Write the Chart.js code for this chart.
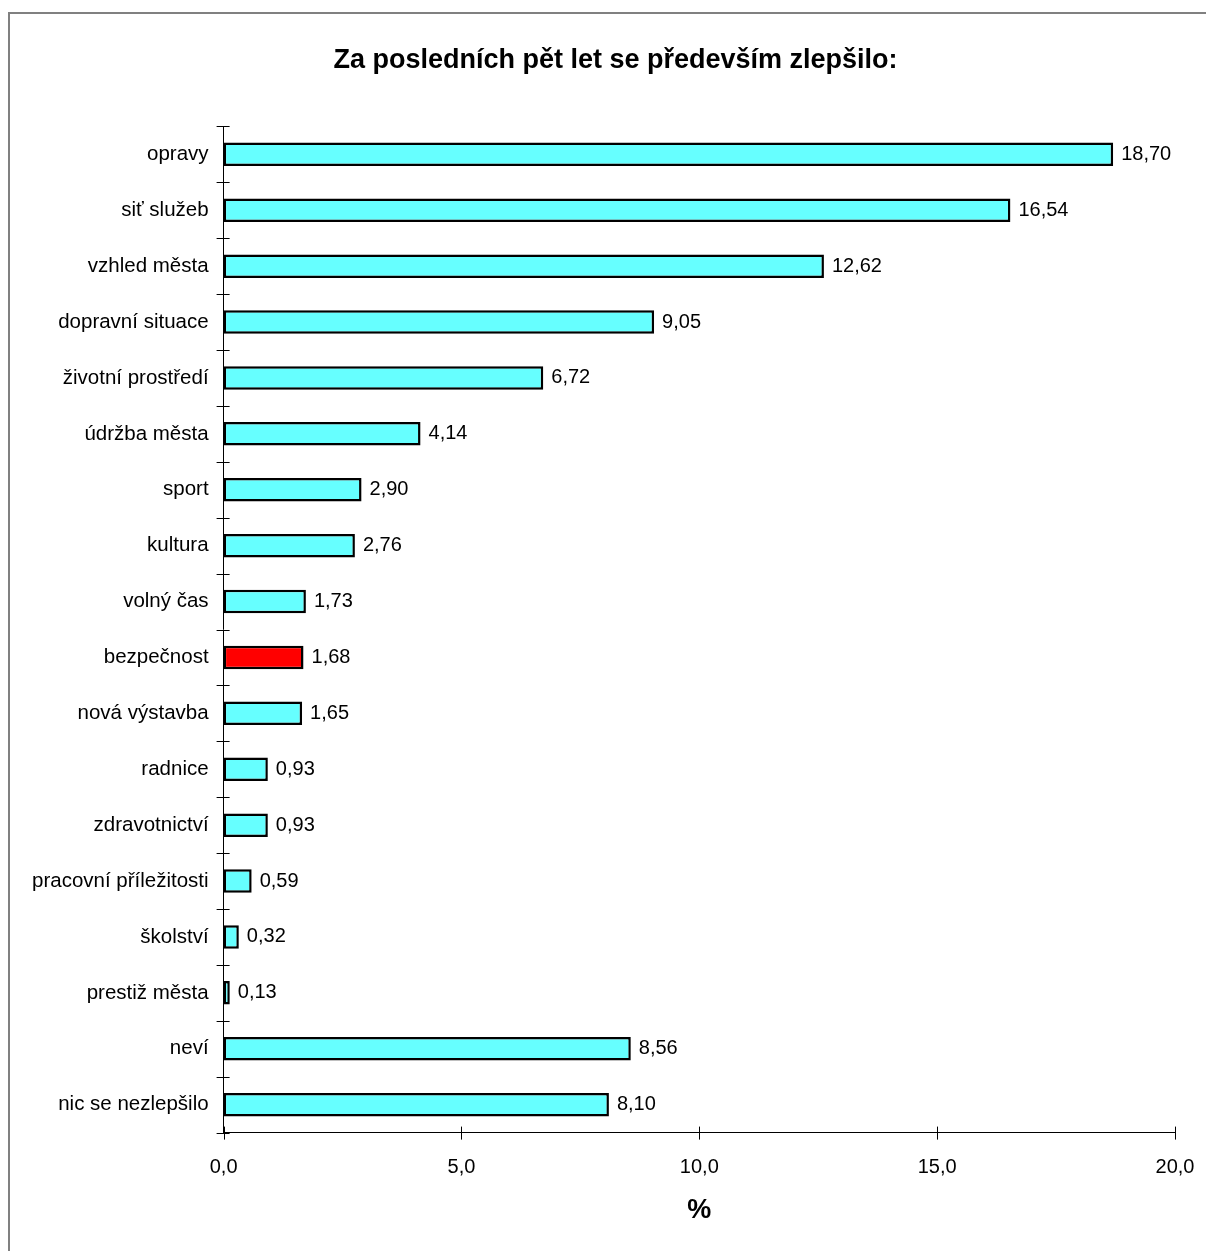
<!DOCTYPE html>
<html>
<head>
<meta charset="utf-8">
<script src="https://cdn.jsdelivr.net/npm/chart.js@4.4.1/dist/chart.umd.min.js"></script>
<style>
    html, body { margin: 0; padding: 0; background: #fff; overflow: hidden; }
    #frame {
        position: absolute; left: 8px; top: 12px; width: 1300px; height: 1300px;
        border-left: 2px solid #808080; border-top: 2px solid #808080;
    }
    #wrap { position: absolute; left: 0; top: 0; width: 1206px; height: 1251px; }
</style>
</head>
<body>
<div id="frame"></div>
<div id="wrap"><canvas id="barChart"></canvas></div>
<script>
// Data
const categories = [
    'opravy', 'siť služeb', 'vzhled města', 'dopravní situace', 'životní prostředí',
    'údržba města', 'sport', 'kultura', 'volný čas', 'bezpečnost', 'nová výstavba',
    'radnice', 'zdravotnictví', 'pracovní příležitosti', 'školství', 'prestiž města',
    'neví', 'nic se nezlepšilo'
];
const values = [18.70, 16.54, 12.62, 9.05, 6.72, 4.14, 2.90, 2.76, 1.73, 1.68, 1.65,
    0.93, 0.93, 0.59, 0.32, 0.13, 8.56, 8.10];
const highlighted = ['bezpečnost'];
const xTicks = [0, 5, 10, 15, 20];

const FONT = 'Liberation Sans, Arial, sans-serif';

const barColors = categories.map(c => highlighted.includes(c) ? '#ff0000' : '#66ffff');

// value labels to the right of each bar
const valueLabels = {
    id: 'valueLabels',
    afterDatasetsDraw(chart) {
        const ctx = chart.ctx;
        const meta = chart.getDatasetMeta(0);
        ctx.save();
        ctx.font = '20px ' + FONT;
        ctx.fillStyle = '#000';
        ctx.textBaseline = 'middle';
        meta.data.forEach((bar, i) => {
            ctx.fillText(values[i].toFixed(2).replace('.', ','), bar.x + 8, bar.y);
        });
        ctx.restore();
    }
};

// tick marks crossing the axes (Excel style)
const crossTicks = {
    id: 'crossTicks',
    afterDraw(chart) {
        const ctx = chart.ctx;
        const x = chart.scales.x, y = chart.scales.y;
        ctx.save();
        ctx.strokeStyle = '#000';
        ctx.lineWidth = 1;
        ctx.beginPath();
        for (let i = 0; i <= categories.length; i++) {
            const py = Math.round(y.top + i * (y.bottom - y.top) / categories.length) + 0.5;
            ctx.moveTo(x.left - 7, py);
            ctx.lineTo(x.left + 6, py);
        }
        xTicks.forEach(v => {
            const px = Math.round(x.getPixelForValue(v)) + 0.5;
            ctx.moveTo(px, y.bottom - 6);
            ctx.lineTo(px, y.bottom + 7);
        });
        ctx.stroke();
        ctx.restore();
    }
};

new Chart(document.getElementById('barChart'), {
    type: 'bar',
    data: {
        labels: categories,
        datasets: [{
            data: values,
            backgroundColor: barColors,
            borderColor: '#000',
            borderWidth: 2.5,
            borderSkipped: false,
            barPercentage: 0.84,
            categoryPercentage: 0.5
        }]
    },
    options: {
        indexAxis: 'y',
        responsive: true,
        maintainAspectRatio: false,
        animation: false,
        layout: { padding: { left: 25, right: 0, top: 44, bottom: 24 } },
        plugins: {
            legend: { display: false },
            tooltip: { enabled: false },
            title: {
                display: true,
                text: 'Za posledních pět let se především zlepšilo:',
                color: '#000',
                font: { family: FONT, size: 27, weight: 'bold' },
                padding: { top: 0, bottom: 50 }
            }
        },
        scales: {
            x: {
                min: 0, max: 20,
                afterBuildTicks(scale) { scale.ticks = xTicks.map(v => ({ value: v })); },
                afterFit(scale) { scale.paddingRight = 31; },
                grid: { display: false },
                border: { color: '#000', width: 1 },
                ticks: {
                    color: '#000',
                    font: { family: FONT, size: 20 },
                    padding: 15,
                    maxRotation: 0,
                    callback: v => v.toFixed(1).replace('.', ',')
                },
                title: {
                    display: true, text: '%', color: '#000',
                    font: { family: FONT, size: 27, weight: 'bold' },
                    padding: { top: 0, bottom: 0 }
                }
            },
            y: {
                grid: { display: false },
                border: { color: '#000', width: 1 },
                ticks: {
                    color: '#000',
                    font: { family: FONT, size: 20.5 },
                    padding: 7
                }
            }
        }
    },
    plugins: [valueLabels, crossTicks]
});
</script>
</body>
</html>
